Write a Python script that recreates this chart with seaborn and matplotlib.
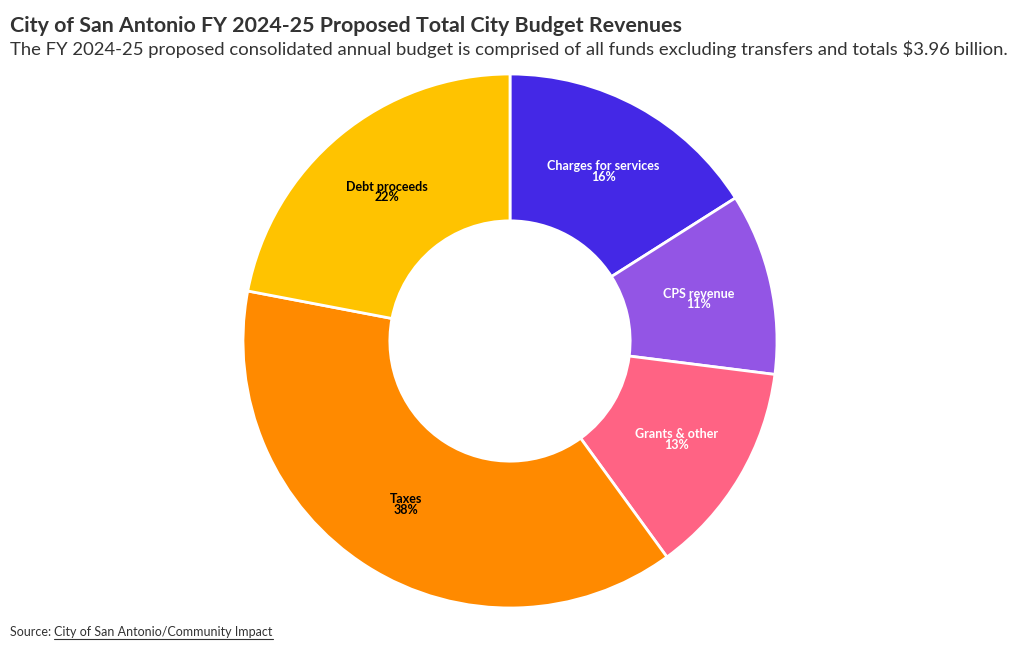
import matplotlib
matplotlib.use("Agg")
import matplotlib.pyplot as plt
import seaborn as sns
import numpy as np

# Data (clockwise from 12 o'clock)
categories = ["Charges for services", "CPS revenue", "Grants & other", "Taxes", "Debt proceeds"]
shares = [16, 11, 13, 38, 22]
colors = ["#4428E6", "#9355E5", "#FF6384", "#FF8A00", "#FFC300"]
label_colors = ["white", "white", "white", "black", "black"]

title = "City of San Antonio FY 2024-25 Proposed Total City Budget Revenues"
subtitle = ("The FY 2024-25 proposed consolidated annual budget is comprised of all funds "
            "excluding transfers and totals $3.96 billion.")

sns.set_theme(style="white")
plt.rcParams["font.family"] = ["Lato", "DejaVu Sans"]

fig = plt.figure(figsize=(10.2, 6.5), dpi=100)
ax = fig.add_axes([243 / 1020, 42 / 650, 534 / 1020, 534 / 650])

palette = sns.color_palette(colors)
wedges, texts = ax.pie(
    shares, colors=palette, startangle=90, counterclock=False,
    radius=1.0, wedgeprops=dict(width=0.55, edgecolor="white", linewidth=2),
)
ax.set_xlim(-1.0, 1.0)
ax.set_ylim(-1.0, 1.0)
ax.set_aspect("equal")
ax.axis("off")

cum = np.cumsum([0] + shares[:-1])
for cat, val, c0, tc in zip(categories, shares, cum, label_colors):
    mid = (c0 + val / 2) / sum(shares) * 2 * np.pi
    r = 0.725
    x, y = r * np.sin(mid), r * np.cos(mid)
    ax.text(x, y, f"{cat}\n{val}%", ha="center", va="center", fontsize=9,
            fontweight="bold", color=tc, linespacing=0.85)

fig.text(10 / 1020, 1 - 32 / 650, title, fontsize=15.4, fontweight="bold",
         color="#333333", ha="left", va="baseline")
fig.text(10 / 1020, 1 - 55 / 650, subtitle, fontsize=13.3, color="#333333",
         ha="left", va="baseline")
src = fig.text(10 / 1020, 1 - 636 / 650, "Source: ", fontsize=9, color="#333333",
               ha="left", va="baseline")
fig.canvas.draw()
bb = src.get_window_extent()
link = fig.text(bb.x1 / 1020, 1 - 636 / 650, "City of San Antonio/Community Impact",
                fontsize=9, color="#333333", ha="left", va="baseline")
link_bb = link.get_window_extent(renderer=fig.canvas.get_renderer())
fig.add_artist(plt.Line2D([link_bb.x0 / 1020, link_bb.x1 / 1020],
                          [1 - 639 / 650, 1 - 639 / 650], color="#333333", lw=0.8))

fig.savefig("out.png", dpi=100)
